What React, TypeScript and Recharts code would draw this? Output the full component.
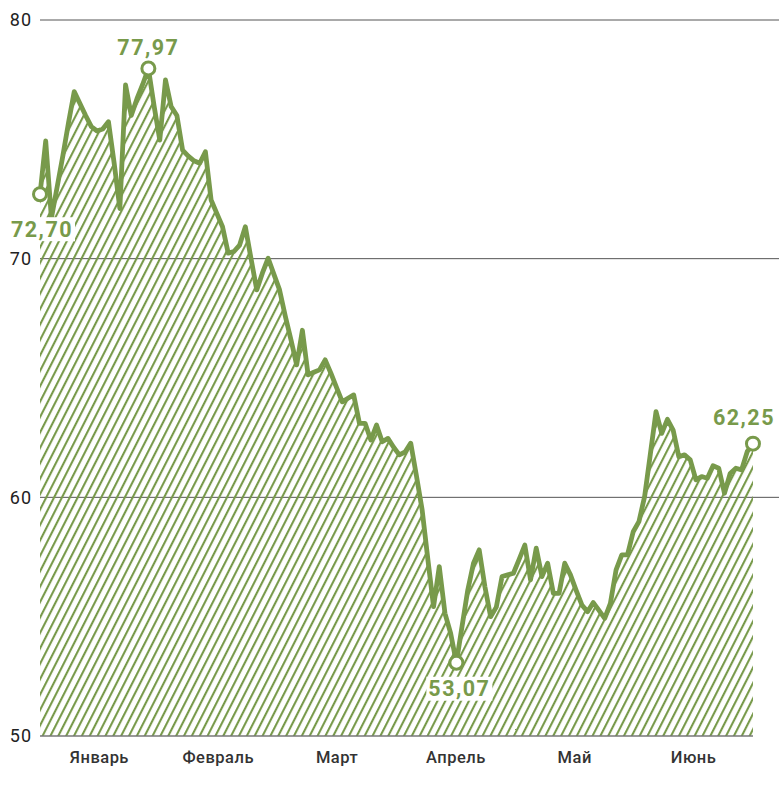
import { Area, AreaChart, CartesianGrid, ReferenceLine, XAxis, YAxis } from "recharts";

// Closing prices, one per trading day, January to June.
const PRICES = [
  72.7, 74.93, 71.7, 73.0, 74.3, 75.7, 77.0, 76.5, 76.0, 75.53,
  75.35, 75.43, 75.74, 74.0, 72.1, 77.28, 76.0, 76.7, 77.3, 77.97,
  76.4, 74.97, 77.49, 76.37, 76.0, 74.55, 74.3, 74.1, 74.0, 74.48,
  72.46, 71.9, 71.34, 70.23, 70.3, 70.57, 71.34, 70.0, 68.69, 69.4,
  70.02, 69.35, 68.69, 67.6, 66.6, 65.55, 67.0, 65.13, 65.24, 65.34,
  65.76, 65.2, 64.6, 64.0, 64.15, 64.29, 63.1, 63.1, 62.4, 63.03,
  62.33, 62.47, 62.1, 61.78, 61.9, 62.27, 60.9, 59.47, 57.4, 55.42,
  57.1, 55.14, 54.3, 53.07, 54.6, 56.12, 57.24, 57.8, 56.26, 55.0,
  55.4, 56.68, 56.75, 56.82, 57.4, 58.0, 56.54, 57.87, 56.68, 57.24,
  55.98, 55.98, 57.24, 56.75, 56.1, 55.49, 55.21, 55.59, 55.26, 54.93,
  55.56, 56.96, 57.59, 57.59, 58.56, 58.98, 60.03, 61.8, 63.59, 62.68,
  63.27, 62.82, 61.7, 61.78, 61.57, 60.73, 60.87, 60.8, 61.32, 61.22,
  60.17, 61.0, 61.22, 61.15, 61.92, 62.25,
];
const MONTHS = ["Январь", "Февраль", "Март", "Апрель", "Май", "Июнь"];
const Y_TICKS = [50, 60, 70, 80];
const GRID_VALUES = [60, 70, 80];
// first, high, low, last
const MARKED = [0, 19, 73, 125];

const GREEN = "#789a4b";
const LAST = PRICES.length - 1;
// grid lines run on past the last day to the right edge
const X_MAX = LAST * 1.0365;

const data = PRICES.map((v, i) => ({ i, v }));
const monthEdges = MONTHS.map((_, k) => (k * LAST) / MONTHS.length).concat(LAST);
const monthCenters = MONTHS.map((_, k) => ((k + 0.5) * LAST) / MONTHS.length);

const labelOffset: Record<number, [number, number]> = {
  0: [2, 35],
  19: [0, -21],
  73: [3, 26],
  125: [-9, -26],
};

const fmt = (v: number) => v.toFixed(2).replace(".", ",");

function Marker(props: any) {
  const { cx, cy, index } = props;
  if (!MARKED.includes(index)) return <g key={`d${index}`} />;
  const [dx, dy] = labelOffset[index];
  return (
    <g key={`d${index}`}>
      <rect x={cx + dx - 33} y={cy + dy - 12} width={66} height={24} fill="#fff" />
      <text
        x={cx + dx}
        y={cy + dy}
        textAnchor="middle"
        dominantBaseline="central"
        fontSize={21.5}
        fontWeight={700}
        letterSpacing={1.5}
        fill={GREEN}
        fontFamily="Roboto"
      >
        {fmt(PRICES[index])}
      </text>
      <circle cx={cx} cy={cy} r={6.5} fill="#fff" stroke={GREEN} strokeWidth={3} />
    </g>
  );
}

export default function App() {
  return (
    <div style={{ position: "absolute", left: 0, top: 0, fontFamily: "Roboto" }}>
      <AreaChart width={779} height={785} data={data} margin={{ top: 20, right: 0, left: 0, bottom: 0 }}>
        <defs>
          <pattern id="hatch" width="7" height="7" patternUnits="userSpaceOnUse" patternTransform="rotate(27)">
            <rect x="0" y="0" width="2.1" height="7" fill={GREEN} />
          </pattern>
        </defs>
        <CartesianGrid vertical={false} horizontalValues={GRID_VALUES} stroke="#555" strokeWidth={1} />
        <XAxis
          xAxisId="edges"
          type="number"
          dataKey="i"
          domain={[0, X_MAX]}
          ticks={monthEdges}
          tickFormatter={() => ""}
          axisLine={false}
          tickLine={{ stroke: "#777", strokeWidth: 1.5 }}
          tickSize={10}
          height={0}
        />
        <XAxis
          xAxisId="months"
          type="number"
          dataKey="i"
          domain={[0, X_MAX]}
          ticks={monthCenters}
          tickFormatter={(_v: number, k: number) => MONTHS[k]}
          axisLine={false}
          tickLine={false}
          tickSize={0}
          tickMargin={15}
          height={49}
          tick={{ fontSize: 16.5, fill: "#333", fontWeight: 500, letterSpacing: 0.5 }}
        />
        <YAxis
          domain={[50, 80]}
          ticks={Y_TICKS}
          width={40}
          axisLine={false}
          tickLine={false}
          tick={{ fontSize: 18, fill: "#222", letterSpacing: 1 }}
        />
        <Area
          xAxisId="edges"
          type="linear"
          dataKey="v"
          stroke={GREEN}
          strokeWidth={4.8}
          strokeLinejoin="round"
          fill="url(#hatch)"
          fillOpacity={1}
          dot={Marker}
          activeDot={false}
          isAnimationActive={false}
        />
        <ReferenceLine
          xAxisId="edges"
          segment={[
            { x: 0, y: 50 },
            { x: LAST, y: 50 },
          ]}
          stroke="#777"
          strokeWidth={1.5}
        />
      </AreaChart>
    </div>
  );
}
